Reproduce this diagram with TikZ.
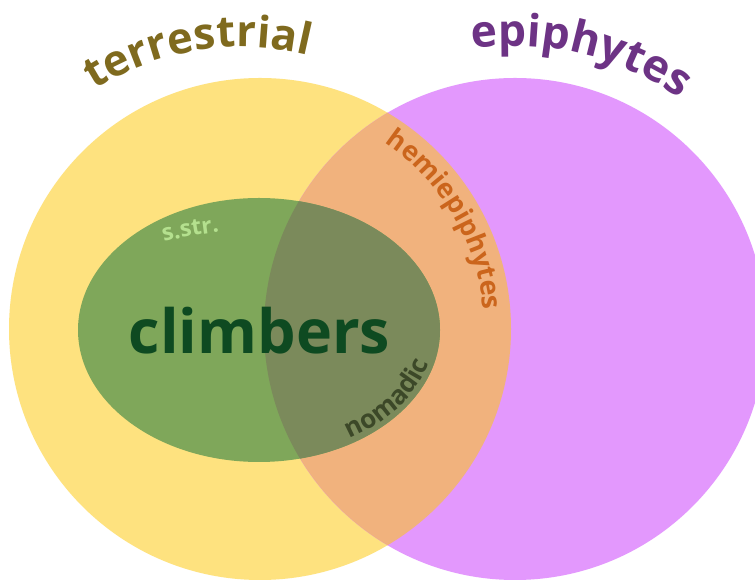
\documentclass[tikz,border=0pt]{standalone}
\usepackage{fontspec}
\setmainfont{Open Sans}
\usetikzlibrary{decorations.text}
\definecolor{yel}{HTML}{FEE27F}
\definecolor{pur}{HTML}{E398FD}
\definecolor{ora}{HTML}{F1B27D}
\definecolor{grn}{HTML}{7FA75A}
\definecolor{olv}{HTML}{7B8A5B}
\definecolor{terr}{HTML}{7F6A1E}
\definecolor{epi}{HTML}{6D3385}
\definecolor{hemi}{HTML}{CB651C}
\definecolor{clim}{HTML}{0E4A21}
\definecolor{sstr}{HTML}{B4E08E}
\definecolor{nom}{HTML}{3C4828}
\tikzset{
  curvedlabel/.style={decorate,decoration={text along path,text align=center,text={#1}}}
}
\begin{document}
\begin{tikzpicture}[x=1pt,y=1pt]
\useasboundingbox (0,0) rectangle (755,580);
\fill[white] (0,0) rectangle (755,580);
\coordinate (cy) at (260,251);
\coordinate (cp) at (515,251);
\coordinate (ce) at (259,250);
\fill[yel] (cy) circle[radius=251];
\fill[pur] (cp) circle[radius=251];
\begin{scope}
  \clip (cy) circle[radius=251];
  \fill[ora] (cp) circle[radius=251];
\end{scope}
\fill[grn] (ce) ellipse[x radius=181,y radius=132];
\begin{scope}
  \clip (cp) circle[radius=251];
  \fill[olv] (ce) ellipse[x radius=181,y radius=132];
\end{scope}
\node[anchor=base,inner sep=0pt,font=\fontsize{61}{70}\selectfont\bfseries,text=clim] (climbers) at (259.5,226) {climbers};
% curved labels
\coordinate (tc) at (242,258);
\path (tc) ++(134.3:275) coordinate (t0);
\path[curvedlabel={|\fontsize{43.5}{52}\selectfont\bfseries\color{terr}|terrestrial}] (t0) arc[start angle=134.3,end angle=64.3,radius=275];
\path (cp) ++(111.5:283) coordinate (e0);
\path[curvedlabel={|\fontsize{44.5}{53}\selectfont\bfseries\color{epi}|epiphytes}] (e0) arc[start angle=111.5,end angle=41.5,radius=283];
\path (cy) ++(70:224) coordinate (h0);
\path[curvedlabel={|\fontsize{27}{32}\selectfont\bfseries\color{hemi}|hemiepiphytes}] (h0) arc[start angle=70,end angle=-9,radius=224];
\path (ce) ++(134:200 and 100) coordinate (s0);
\path[curvedlabel={|\fontsize{23}{28}\selectfont\bfseries\color{sstr}|s.str.}] (s0) arc[start angle=134,end angle=88,x radius=200,y radius=100];
\path (ce) ++(-72:176 and 127) coordinate (n0);
\path[curvedlabel={|\fontsize{26}{31}\selectfont\bfseries\color{nom}|nomadic}] (n0) arc[start angle=-72,end angle=2,x radius=176,y radius=127];
\end{tikzpicture}
\end{document}
